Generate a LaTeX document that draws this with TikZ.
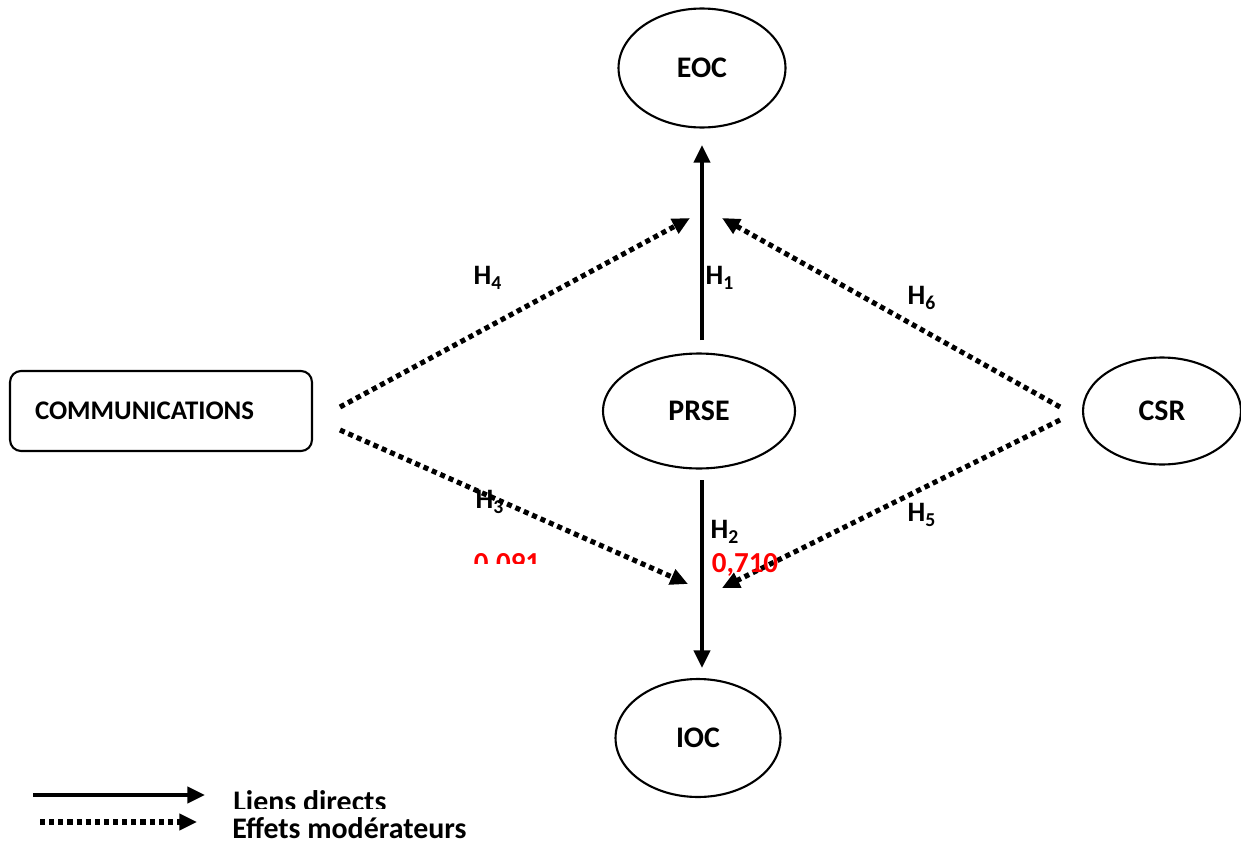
\documentclass[tikz,border=0pt]{standalone}
\usepackage{fontspec}
\setmainfont{Carlito}
\usetikzlibrary{arrows.meta,shapes.geometric}

\begin{document}
\begin{tikzpicture}[x=0.02cm, y=-0.02cm, font=\bfseries\fontsize{15.3}{17}\selectfont, >={Triangle[length=10pt,width=9pt]}]
\tikzset{var/.style={draw, ellipse, line width=1.2pt, inner sep=0pt, font=\bfseries\fontsize{17}{19}\selectfont}, direct/.style={->, line width=2.4pt}, moder/.style={->, line width=2.9pt, dash pattern=on 2.9pt off 2.3pt}, hyp/.style={inner sep=0pt, font=\bfseries\fontsize{16}{18}\selectfont}, coef/.style={inner sep=0pt, text=red, font=\bfseries\fontsize{16.5}{18}\selectfont}, legtext/.style={inner sep=0pt, anchor=west, font=\bfseries\fontsize{17}{19}\selectfont}}
\useasboundingbox (0,0) rectangle (1241,845);
% variables
\node[var, minimum width=3.34cm, minimum height=2.38cm] (eoc) at (702,68) {EOC};
\node[var, minimum width=3.84cm, minimum height=2.3cm] (prse) at (699,411) {PRSE};
\node[var, minimum width=3.3cm, minimum height=2.36cm] (ioc) at (698,738) {IOC};
\node[var, minimum width=3.16cm, minimum height=2.14cm] (csr) at (1162,411) {CSR};
\node[draw, line width=1.2pt, rounded corners=0.22cm, text width=5.04cm, inner xsep=0.5cm, minimum height=1.6cm, align=left] (com) at (161,411) {COMMUNICATIONS};
% direct links
\coordinate (p1) at (702,340);
\coordinate (e1) at (702,145);
\coordinate (p2) at (702,480);
\coordinate (i1) at (702,668);
\draw[direct] (p1) -- (e1);
\draw[direct] (p2) -- (i1);
% moderating effects
\coordinate (c1) at (340,407);
\coordinate (c2) at (340,430);
\coordinate (s1) at (1060,407);
\coordinate (s2) at (1060,420);
\coordinate (t4) at (690,218);
\coordinate (t3) at (688,584);
\coordinate (t6) at (722,218);
\coordinate (t5) at (722,588);
\foreach \a/\b in {c1/t4,c2/t3,s1/t6,s2/t5} \draw[moder] (\a) -- (\b);
% hypotheses
\node[hyp] (h4) at (488,278) {H\textsubscript{4}};
\node[hyp] (h1) at (720,278) {H\textsubscript{1}};
\node[hyp] (h6) at (922,298) {H\textsubscript{6}};
\node[hyp] (h3) at (490,502) {H\textsubscript{3}};
\node[hyp] (h2) at (725,532) {H\textsubscript{2}};
\node[hyp] (h5) at (922,515) {H\textsubscript{5}};
\begin{scope}
\clip (440,540) rectangle (580,563);
\node[coef] (v3) at (507,565) {0,091};
\end{scope}
\node[coef] (v2) at (745,565) {0,710};
% legend
\coordinate (l1) at (33,795);
\coordinate (l2) at (205,795);
\coordinate (l3) at (40,822);
\coordinate (l4) at (197,822);
\draw[direct] (l1) -- (l2);
\draw[moder] (l3) -- (l4);
\begin{scope}
\clip (220,780) rectangle (420,808);
\node[legtext] (leg1) at (233,801) {Liens directs};
\end{scope}
\node[legtext] (leg2) at (232,828) {Effets modérateurs};
\end{tikzpicture}
\end{document}
